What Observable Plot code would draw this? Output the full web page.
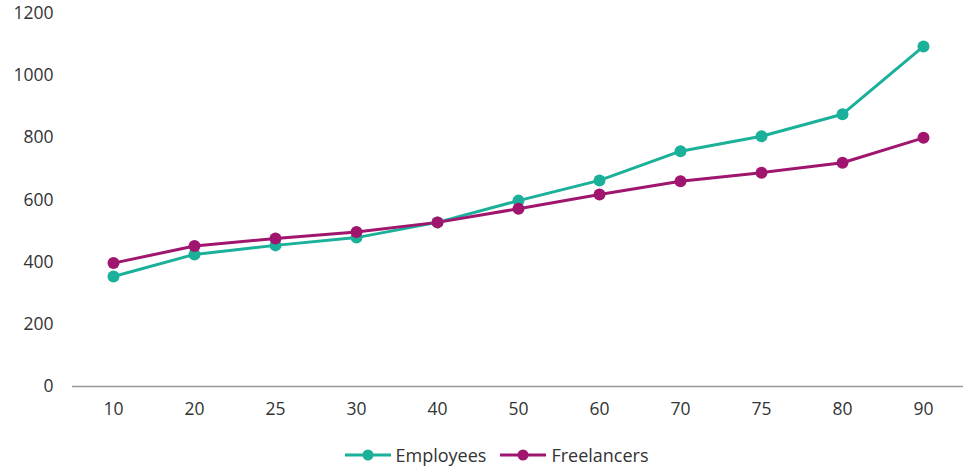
<!DOCTYPE html>
<html>
<head>
<meta charset="utf-8">
<script src="https://cdn.jsdelivr.net/npm/d3@7"></script>
<script src="https://cdn.jsdelivr.net/npm/@observablehq/plot@0.6"></script>
<style>
  body { margin: 0; background: #fff; font-family: "Open Sans", sans-serif; }
  #legend { display: flex; justify-content: center; align-items: center; gap: 14px; font-size: 18px; color: #333; margin-left: 22px; margin-top: 13px; }
  .item { display: flex; align-items: center; gap: 5px; }
</style>
</head>
<body>
<div id="chart"></div>
<div id="legend"></div>
<script>
const categories = ["10", "20", "25", "30", "40", "50", "60", "70", "75", "80", "90"];
const employees = [354, 425, 454, 479, 528, 598, 663, 757, 805, 876, 1094];
const freelancers = [397, 452, 476, 497, 528, 572, 618, 660, 688, 720, 800];
const seriesNames = ["Employees", "Freelancers"];
const seriesColors = ["#1ab09a", "#a0166e"];
const yTicks = [0, 200, 400, 600, 800, 1000, 1200];

const data = [];
categories.forEach((c, i) => {
  data.push({cat: c, value: employees[i], series: seriesNames[0]});
  data.push({cat: c, value: freelancers[i], series: seriesNames[1]});
});

const plot = Plot.plot({
  width: 971,
  height: 430,
  marginTop: 13,
  marginBottom: 44,
  marginLeft: 72,
  marginRight: 8,
  style: {fontFamily: "Open Sans, sans-serif", fontSize: "17.5px", color: "#333"},
  x: {type: "point", domain: categories, padding: 0.5, label: null, tickSize: 0, tickPadding: 16},
  y: {domain: [0, 1200], ticks: yTicks, tickFormat: d => String(d), label: null, tickSize: 0, tickPadding: 19},
  color: {domain: seriesNames, range: seriesColors},
  marks: [
    Plot.ruleY([0], {stroke: "#999", strokeWidth: 1.5}),
    Plot.line(data, {x: "cat", y: "value", stroke: "series", strokeWidth: 3}),
    Plot.dot(data, {x: "cat", y: "value", fill: "series", r: 6})
  ]
});
document.getElementById("chart").appendChild(plot);

const legend = document.getElementById("legend");
seriesNames.forEach((name, i) => {
  const item = document.createElement("div");
  item.className = "item";
  item.innerHTML = `<svg width="46" height="14"><line x1="0" y1="7" x2="46" y2="7" stroke="${seriesColors[i]}" stroke-width="3"/><circle cx="23" cy="7" r="5.5" fill="${seriesColors[i]}"/></svg><span>${name}</span>`;
  legend.appendChild(item);
});
</script>
</body>
</html>
